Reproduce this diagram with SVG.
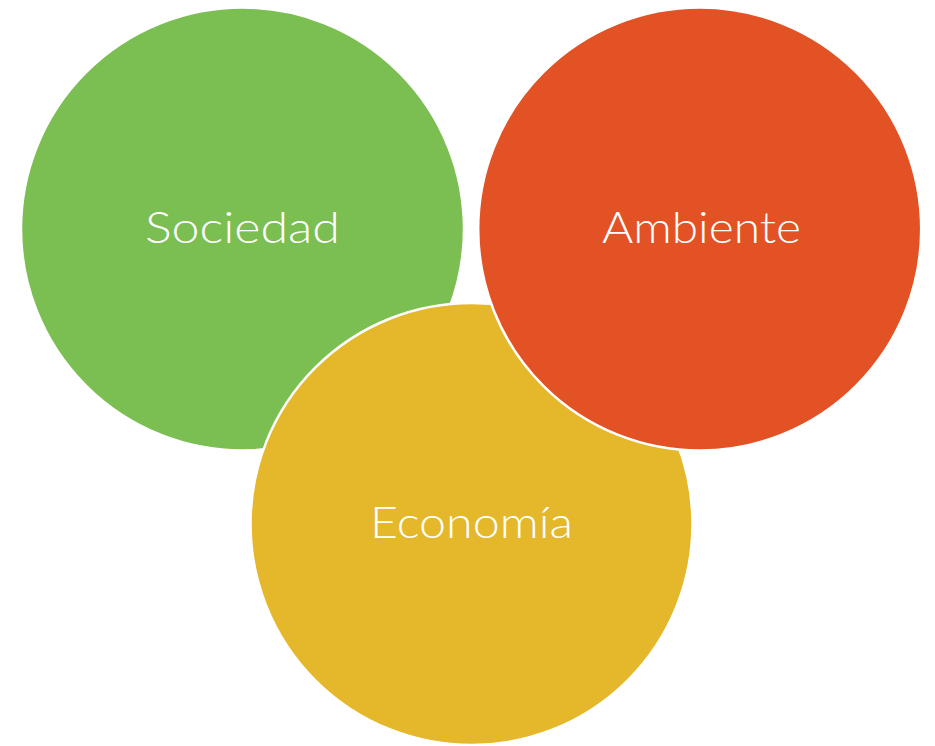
<svg xmlns="http://www.w3.org/2000/svg" width="935" height="746" viewBox="0 0 935 746">
<style>
.c{stroke:#FFFFFF;stroke-width:2.5}
.t{font-family:"Lato","Liberation Sans",sans-serif;font-weight:300;font-size:44px;fill:#FFFFFF;text-anchor:middle}
</style>
<rect width="935" height="746" fill="#FFFFFF"/>
<g id="sociedad">
<circle class="c" cx="242.5" cy="229" r="221.5" fill="#7BBE52"/>
<text class="t" x="242.5" y="243" textLength="195" lengthAdjust="spacingAndGlyphs">Sociedad</text>
</g>
<g id="economia">
<circle class="c" cx="471.5" cy="524" r="221" fill="#E5B72A"/>
<text class="t" x="471.5" y="538" textLength="203" lengthAdjust="spacingAndGlyphs">Economía</text>
</g>
<g id="ambiente">
<circle class="c" cx="699.7" cy="229" r="221.5" fill="#E25225"/>
<text class="t" x="701.5" y="243" textLength="199" lengthAdjust="spacingAndGlyphs">Ambiente</text>
</g>
<g id="connectors"></g>
</svg>
